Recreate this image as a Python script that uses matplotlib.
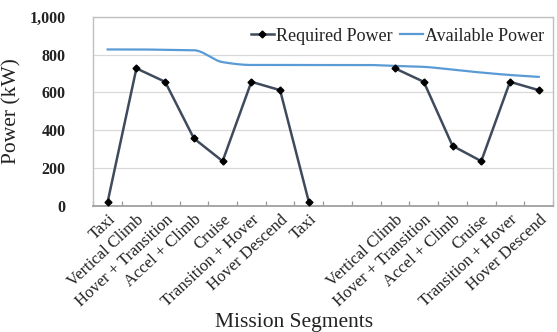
import numpy as np
import matplotlib
matplotlib.use("Agg")
import matplotlib.pyplot as plt
from matplotlib.ticker import FuncFormatter, MultipleLocator
from matplotlib.lines import Line2D

categories = ["Taxi", "Vertical Climb", "Hover + Transition", "Accel + Climb", "Cruise",
              "Transition + Hover", "Hover Descend", "Taxi", "", "",
              "Vertical Climb", "Hover + Transition", "Accel + Climb", "Cruise",
              "Transition + Hover", "Hover Descend"]
required_power = [22, 727, 656, 357, 237, 656, 612, 22, np.nan, np.nan,
                  727, 656, 318, 237, 656, 612]
available_power = [827, 827, 825, 823, 760, 745, 745, 745, 745, 745,
                   740, 735, 720, 705, 692, 682]

plt.rcParams['font.family'] = ['Liberation Serif', 'DejaVu Serif']


def smooth_path(xs, ys, n=20):
    # monotone cubic (Fritsch-Carlson) drawing of a smoothed line through the data points
    xs = np.asarray(xs, float)
    ys = np.asarray(ys, float)
    h = np.diff(xs)
    d = np.diff(ys) / h
    m = np.zeros_like(ys)
    m[0], m[-1] = d[0], d[-1]
    for i in range(1, len(ys) - 1):
        if d[i - 1] * d[i] <= 0:
            m[i] = 0.0
        else:
            m[i] = 2.0 / (1.0 / d[i - 1] + 1.0 / d[i])
    ox, oy = [], []
    for i in range(len(xs) - 1):
        t = np.linspace(0, 1, n, endpoint=False)
        h00 = 2 * t ** 3 - 3 * t ** 2 + 1
        h10 = t ** 3 - 2 * t ** 2 + t
        h01 = -2 * t ** 3 + 3 * t ** 2
        h11 = t ** 3 - t ** 2
        ox.append(xs[i] + t * h[i])
        oy.append(h00 * ys[i] + h10 * h[i] * m[i] + h01 * ys[i + 1] + h11 * h[i] * m[i + 1])
    ox.append([xs[-1]])
    oy.append([ys[-1]])
    return np.concatenate(ox), np.concatenate(oy)


fig = plt.figure(figsize=(5.57, 3.32), dpi=100)
ax = fig.add_axes([0.1675, 0.3795, 0.8255, 0.5702])

x = np.arange(len(categories))
sx, sy = smooth_path(x, available_power)
ax.plot(sx, sy, color='#5b9bd5', lw=1.6, zorder=3)
ax.plot(x, required_power, color='#3f4b5c', lw=1.8, marker='D', markersize=3.5,
        markerfacecolor='black', markeredgecolor='black', zorder=4)

ax.set_xlim(-0.5, len(categories) - 0.5)
ax.set_ylim(0, 1000)
ax.yaxis.set_major_locator(MultipleLocator(200))
ax.yaxis.set_major_formatter(FuncFormatter(lambda v, p: f"{int(v):,}"))
ax.grid(axis='y', color='#d9d9d9', lw=0.9)
ax.set_axisbelow(True)

ax.set_xticks(x)
ax.set_xticklabels(categories, rotation=43, ha='right', rotation_mode='anchor',
                   fontsize=12, color='#222222')
ax.tick_params(axis='x', length=0, pad=4)
ax.set_xticks(np.arange(-0.5, len(categories), 0.5), minor=True)
ax.tick_params(axis='x', which='minor', direction='in', length=3.5, color='#999999', width=0.9)
ax.tick_params(axis='y', length=0, pad=20, labelsize=11.5, labelcolor='#222222')
for lab in ax.get_yticklabels():
    lab.set_fontweight('bold')

for s in ax.spines.values():
    s.set_color('#bfbfbf')
    s.set_linewidth(1.0)
ax.spines['bottom'].set_color('#a6a6a6')
ax.spines['bottom'].set_linewidth(1.4)

ax.set_ylabel('Power (kW)', fontsize=15.5, color='#222222', labelpad=6)
fig.text(294 / 557, 1 - 322 / 332, 'Mission Segments', fontsize=15.5, ha='center',
         va='center', color='#222222')

handles = [Line2D([], [], color='#3f4b5c', lw=1.8, marker='D', markersize=3.5,
                  markerfacecolor='black', markeredgecolor='black'),
           Line2D([], [], color='#5b9bd5', lw=1.6)]
labels = ['Required Power', 'Available Power']
leg = ax.legend(handles, labels, loc='upper right', ncol=2, frameon=False,
                fontsize=13, handlelength=1.3, handletextpad=0.1, columnspacing=0.4,
                borderaxespad=0.1, bbox_to_anchor=(1.0, 0.99))
for t in leg.get_texts():
    t.set_color('#222222')

fig.savefig('out.png', dpi=100)
